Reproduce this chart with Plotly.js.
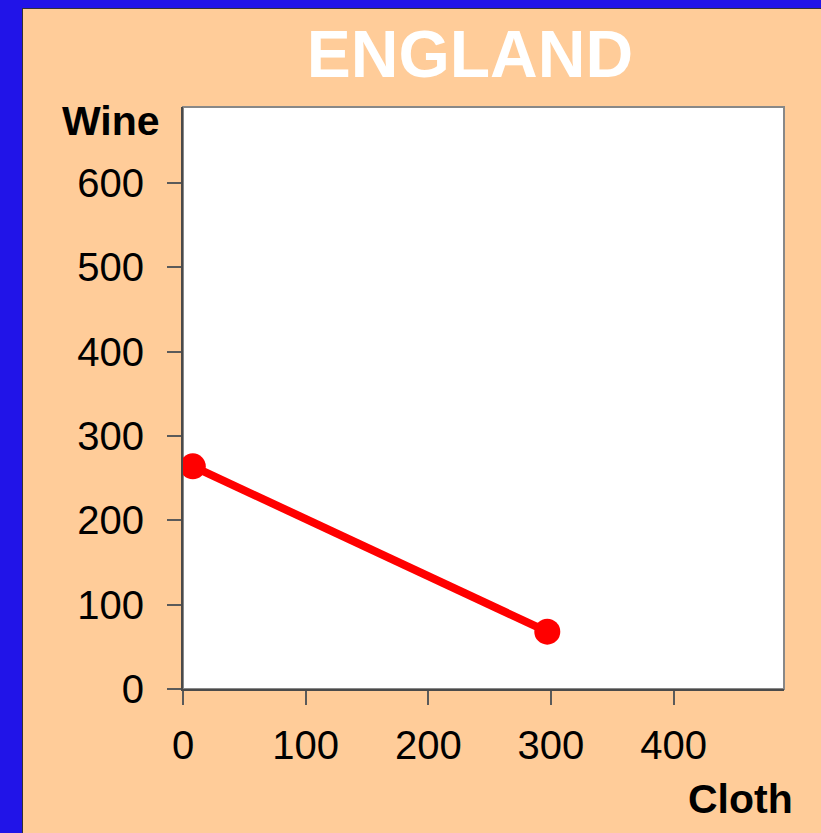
<!DOCTYPE html>
<html>
<head>
<meta charset="utf-8">
<script src="https://cdn.plot.ly/plotly-3.0.1.min.js"></script>
<style>
  html, body { margin: 0; padding: 0; background: #2114E8; width: 821px; height: 833px; overflow: hidden; }
  #panel { position: absolute; left: 22px; top: 8px; width: 799px; height: 825px;
           border-left: 1px solid #333; border-top: 1px solid #333; }
  #chart { width: 799px; height: 825px; }
</style>
</head>
<body>
<div id="panel"><div id="chart"></div></div>
<script>
// Data
const chartTitle = "ENGLAND";
const xLabel = "Cloth";
const yLabel = "Wine";
const cloth = [8, 297];
const wine = [264, 68];
const xTicks = [0, 100, 200, 300, 400];
const yTicks = [0, 100, 200, 300, 400, 500, 600];

const font = "Liberation Sans, Arial, sans-serif";

const trace = {
  x: cloth,
  y: wine,
  type: "scatter",
  mode: "lines+markers",
  line: { color: "#FF0000", width: 8 },
  marker: { color: "#FF0000", size: 26 },
  hoverinfo: "skip",
  showlegend: false
};

const axisCommon = {
  showgrid: false,
  zeroline: false,
  showline: true,
  linecolor: "#4a4a4a",
  linewidth: 2,
  ticks: "outside",
  ticklen: 14,
  tickwidth: 2,
  tickcolor: "#5a5a5a",
  tickfont: { family: font, size: 40, color: "#000" },
  fixedrange: true
};

const layout = {
  width: 799,
  height: 825,
  paper_bgcolor: "#FFCC99",
  plot_bgcolor: "#FFFFFF",
  margin: { l: 160, r: 38, t: 98, b: 145, pad: 0 },
  title: {
    text: "<b>" + chartTitle + "</b>",
    font: { family: font, size: 66, color: "#FFFFFF" },
    x: 0.5594, xanchor: "center", xref: "container",
    y: 0.9455, yanchor: "middle", yref: "container"
  },
  xaxis: Object.assign({}, axisCommon, {
    range: [0, 490],
    tickvals: xTicks,
    ticktext: xTicks.map(String),
    ticklabelstandoff: 6
  }),
  yaxis: Object.assign({}, axisCommon, {
    range: [0, 690],
    tickvals: yTicks,
    ticktext: yTicks.map(String),
    ticklabelstandoff: 15
  }),
  shapes: [{
    type: "rect", xref: "paper", yref: "paper", x0: 0, x1: 1, y0: 0, y1: 1,
    line: { color: "#888888", width: 2 }, fillcolor: "#FFFFFF", layer: "below"
  }],
  annotations: [
    { text: "<b>" + yLabel + "</b>", xref: "paper", yref: "paper", x: -0.12, y: 0.976,
      xanchor: "center", yanchor: "middle", showarrow: false,
      font: { family: font, size: 41, color: "#000" } },
    { text: "<b>" + xLabel + "</b>", xref: "paper", yref: "paper", x: 0.928, y: -0.189,
      xanchor: "center", yanchor: "middle", showarrow: false,
      font: { family: font, size: 41, color: "#000" } }
  ]
};

Plotly.newPlot("chart", [trace], layout, { displayModeBar: false, staticPlot: true });
</script>
</body>
</html>
